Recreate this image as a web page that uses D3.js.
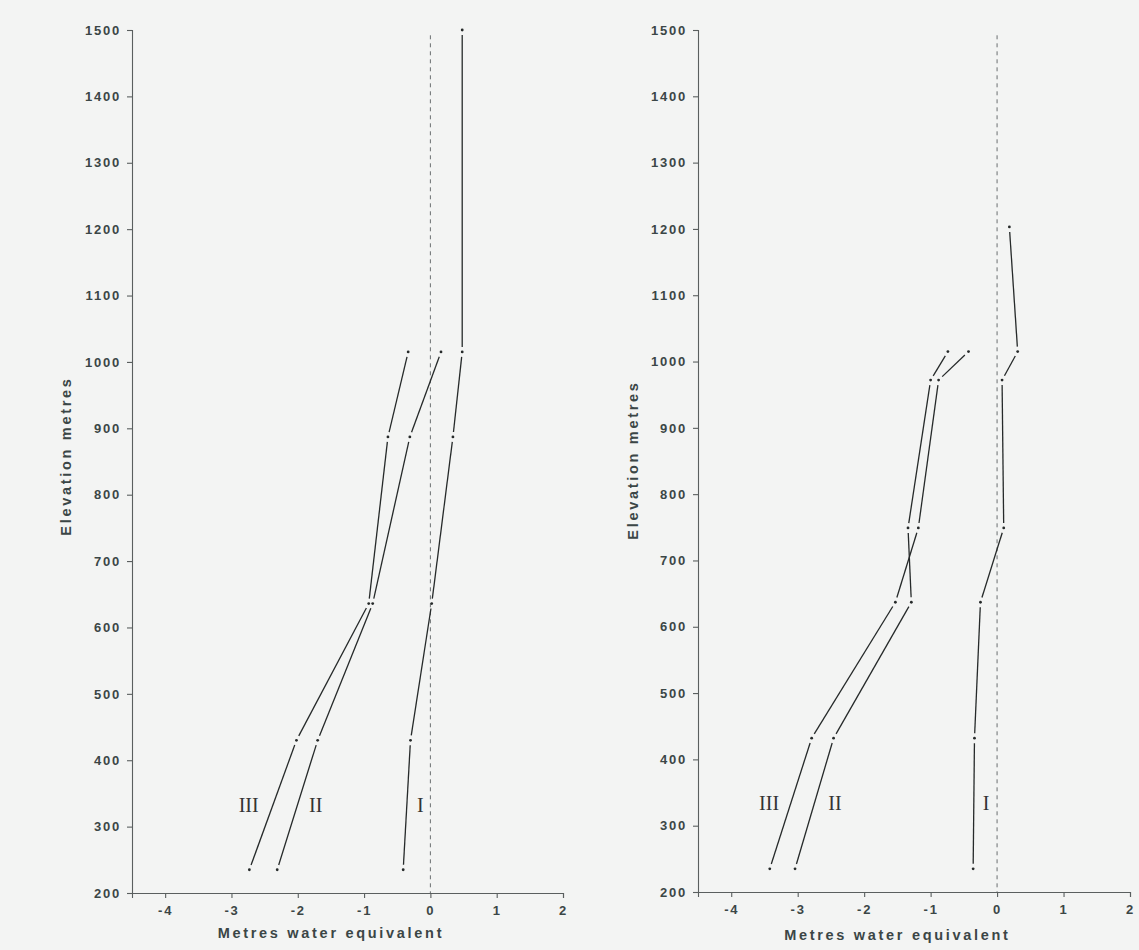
<!DOCTYPE html>
<html>
<head>
<meta charset="utf-8">
<script src="https://cdn.jsdelivr.net/npm/d3@7"></script>
<style>
  html, body { margin: 0; padding: 0; background: #f3f4f3; }
  svg { display: block; }
  .tick text { font-family: "Liberation Sans", Arial, sans-serif; font-weight: bold; font-size: 13px; fill: #3b4646; letter-spacing: 1.8px; }
  .axis path, .axis line { stroke: #5a5f5f; stroke-width: 1.1px; }
  .axlabel { font-family: "Liberation Sans", Arial, sans-serif; font-weight: bold; font-size: 14.5px; fill: #3b4646; letter-spacing: 2.7px; }
  .roman { font-family: "Liberation Serif", "Times New Roman", serif; font-size: 20px; fill: #333; }
</style>
</head>
<body>
<svg id="chart" width="1139" height="950"></svg>
<script>
// ---------- DATA ----------
const xTicks = [-4, -3, -2, -1, 0, 1, 2];
const yTicks = [200, 300, 400, 500, 600, 700, 800, 900, 1000, 1100, 1200, 1300, 1400, 1500];
const seriesNames = ["I", "II", "III"];

// Left panel
const leftElevI   = [235, 430, 636, 887, 1015, 1500];
const leftValsI   = [-0.41, -0.30, 0.02, 0.34, 0.48, 0.48];
const leftElevII  = [235, 430, 636, 887, 1015];
const leftValsII  = [-2.31, -1.70, -0.87, -0.31, 0.16];
const leftElevIII = [235, 430, 636, 887, 1015];
const leftValsIII = [-2.73, -2.02, -0.93, -0.64, -0.335];
const leftLabelX  = [-0.15, -1.73, -2.74];
const leftLabelY  = [333, 333, 333];

// Right panel
const rightElevI   = [235, 432, 637, 749, 972, 1015, 1203];
const rightValsI   = [-0.36, -0.34, -0.25, 0.10, 0.075, 0.31, 0.185];
const rightElevII  = [235, 432, 637, 749, 972, 1015];
const rightValsII  = [-3.04, -2.46, -1.29, -1.34, -1.00, -0.74];
const rightElevIII = [235, 432, 637, 749, 972, 1015];
const rightValsIII = [-3.42, -2.79, -1.53, -1.185, -0.88, -0.43];
const rightLabelX  = [-0.165, -2.44, -3.43];
const rightLabelY  = [334, 334, 334];

const xDomain = [-4.5, 2];
const yDomain = [200, 1500];
const zeroLineTop = 1492;

// ---------- DRAW ----------
const svg = d3.select("#chart");

function zip(el, va) { return el.map((e, i) => ({ e: e, v: va[i] })); }

function panel(cfg) {
  const x = d3.scaleLinear().domain(xDomain).range([cfg.x0, cfg.x1]);
  const y = d3.scaleLinear().domain(yDomain).range([cfg.y0, cfg.y1]);
  const g = svg.append("g");

  // axes
  g.append("g").attr("class", "axis")
    .attr("transform", `translate(0,${cfg.y0})`)
    .call(d3.axisBottom(x).tickValues(xTicks).tickSize(5).tickSizeOuter(5).tickPadding(8)
      .tickFormat(d => String(d)));
  g.append("g").attr("class", "axis")
    .attr("transform", `translate(${cfg.x0},0)`)
    .call(d3.axisLeft(y).tickValues(yTicks).tickSize(5).tickSizeOuter(5).tickPadding(6)
      .tickFormat(d => String(d)));

  // zero dashed line
  g.append("line")
    .attr("x1", x(0)).attr("x2", x(0))
    .attr("y1", y(zeroLineTop)).attr("y2", y(200))
    .attr("stroke", "#6a6f70").attr("stroke-width", 1)
    .attr("stroke-dasharray", "4,4");

  // series
  const gap = 5;
  cfg.series.forEach(s => {
    const pts = zip(s.elev, s.vals).map(p => [x(p.v), y(p.e)]);
    for (let i = 0; i < pts.length - 1; i++) {
      const [ax, ay] = pts[i], [bx, by] = pts[i + 1];
      const dx = bx - ax, dy = by - ay, L = Math.hypot(dx, dy);
      const ux = dx / L, uy = dy / L;
      g.append("line")
        .attr("x1", ax + ux * gap).attr("y1", ay + uy * gap)
        .attr("x2", bx - ux * gap).attr("y2", by - uy * gap)
        .attr("stroke", "#262a2a").attr("stroke-width", 1.3);
    }
    g.selectAll(null).data(pts).enter().append("circle")
      .attr("cx", d => d[0]).attr("cy", d => d[1]).attr("r", 1.4)
      .attr("fill", "#262a2a");
  });

  // roman labels
  seriesNames.forEach((n, i) => {
    g.append("text").attr("class", "roman")
      .attr("x", x(cfg.labelX[i])).attr("y", y(cfg.labelY[i]))
      .attr("text-anchor", "middle").attr("dominant-baseline", "central")
      .text(n);
  });

  // axis titles
  g.append("text").attr("class", "axlabel")
    .attr("x", x(-1.5)).attr("y", cfg.xlabY)
    .attr("text-anchor", "middle").attr("dominant-baseline", "central")
    .text("Metres water equivalent");
  g.append("text").attr("class", "axlabel")
    .attr("transform", `translate(${cfg.ylabX},${cfg.ylabCy}) rotate(-90)`)
    .attr("text-anchor", "middle").attr("dominant-baseline", "central")
    .text("Elevation metres");
}

panel({
  x0: 132, x1: 563, y0: 893, y1: 30,
  xlabY: 933, ylabX: 66, ylabCy: 456,
  labelX: leftLabelX, labelY: leftLabelY,
  series: [
    { elev: leftElevI, vals: leftValsI },
    { elev: leftElevII, vals: leftValsII },
    { elev: leftElevIII, vals: leftValsIII }
  ]
});

panel({
  x0: 698, x1: 1130, y0: 892, y1: 30,
  xlabY: 935, ylabX: 633, ylabCy: 460,
  labelX: rightLabelX, labelY: rightLabelY,
  series: [
    { elev: rightElevI, vals: rightValsI },
    { elev: rightElevII, vals: rightValsII },
    { elev: rightElevIII, vals: rightValsIII }
  ]
});
</script>
</body>
</html>
